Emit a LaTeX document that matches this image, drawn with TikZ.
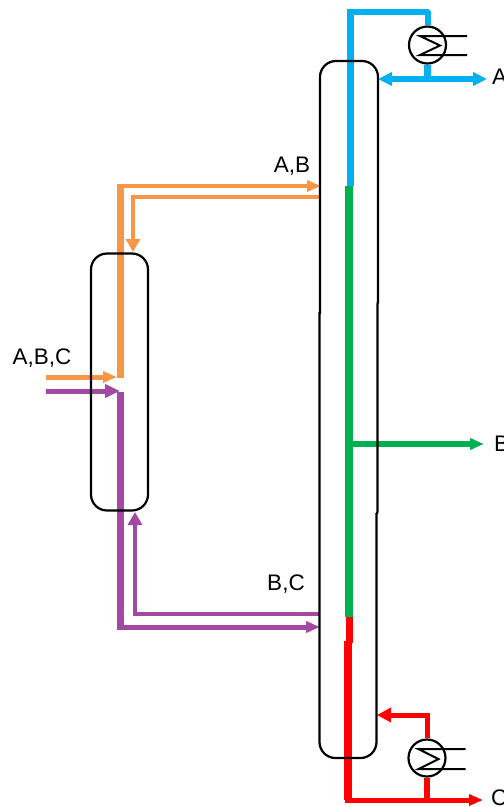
\documentclass[tikz,border=0pt]{standalone}
\usepackage{fontspec}
\setmainfont{Liberation Sans}
\usetikzlibrary{arrows.meta}
\definecolor{cblue}{RGB}{0,176,240}
\definecolor{cgreen}{RGB}{0,176,80}
\definecolor{cred}{RGB}{255,0,0}
\definecolor{corange}{RGB}{247,150,70}
\definecolor{cpurple}{RGB}{163,73,164}
\tikzset{
  vessel/.style={draw=black,line width=2.2pt,rounded corners=16pt},
  exch/.style={circle,draw=black,line width=2.2pt,minimum size=37pt,inner sep=0pt},
  tube/.style={draw=black,line width=2pt,line join=miter},
  thick line/.style={line width=7pt},
  mid line/.style={line width=5pt},
  thin line/.style={line width=4.5pt},
  small head/.style={-{Triangle[length=14pt,width=11pt]}},
  lbl/.style={font=\fontsize{22.5}{26}\selectfont,inner sep=0pt,text=black}
}
\begin{document}
\begin{tikzpicture}[x=1pt,y=-1pt]
\useasboundingbox (0,0) rectangle (504,807);
% named points
\coordinate (blueTop) at (350,12);
\coordinate (blueCorner) at (427.5,12);
\coordinate (blueEnd) at (350,186);
\coordinate (greenTop) at (349,186);
\coordinate (greenEnd) at (349,617);
\coordinate (greenTee) at (349,444);
\coordinate (redTop) at (349.5,617);
\coordinate (redStep) at (349.5,643);
\coordinate (redStepB) at (348,641);
\coordinate (redBot) at (348,800);
\coordinate (topTee) at (427.5,79);
\coordinate (refluxTip) at (378,79);
\coordinate (distTip) at (487,79);
\coordinate (sideTip) at (484,444);
\coordinate (reboilTee) at (427,800);
\coordinate (reboilCorner) at (427,715);
\coordinate (reboilTip) at (377,715);
\coordinate (bottomTip) at (483,800);
\coordinate (orFeedStart) at (46,377);
\coordinate (orFeedTip) at (117,377);
\coordinate (puFeedStart) at (46,391);
\coordinate (puFeedTip) at (120,391);
\coordinate (orUpBot) at (120.5,378);
\coordinate (orUpTop) at (120.5,186);
\coordinate (orOutTip) at (321,186);
\coordinate (orBackStart) at (320,197);
\coordinate (orBackCorner) at (133,197);
\coordinate (orBackTip) at (133,252);
\coordinate (puDownTop) at (120.5,392);
\coordinate (puDownBot) at (120.5,627);
\coordinate (puOutTip) at (320,627);
\coordinate (puBackStart) at (319,614);
\coordinate (puBackCorner) at (135,614);
\coordinate (puBackTip) at (135,512);
% exchangers
\node[exch] (cond) at (427.5,45) {};
\node[exch] (reb) at (427,758) {};
% coloured streams
\draw[cblue,thick line] (blueEnd) -- ([yshift=-3pt]blueTop);
\draw[cblue,line width=6pt,line join=round] ([xshift=-3.5pt]blueTop) -- (blueCorner) -- (cond.north);
\draw[cblue,thick line] (cond.south) -- (topTee);
\draw[cblue,line width=5.5pt,{Triangle[length=14pt,width=13pt]}-{Triangle[length=14pt,width=13pt]}] (refluxTip) -- (distTip);
\draw[cgreen,line width=7.5pt] (greenTop) -- (greenEnd);
\draw[cgreen,line width=6pt,small head] (greenTee) -- (sideTip);
\draw[cred,line width=7.5pt] (redTop) -- (redStep);
\draw[cred,line width=7.5pt] (redStepB) -- (redBot);
\draw[cred,mid line,small head] ([xshift=-3pt]redBot) -- (bottomTip);
\draw[cred,line width=5.5pt] (reb.south) -- (reboilTee);
\draw[cred,line width=5pt,-{Triangle[length=14pt,width=14pt]}] (reb.north) -- (reboilCorner) -- (reboilTip);
\draw[corange,thick line] (orUpBot) -- (orUpTop);
\draw[corange,line width=4.5pt,small head] ([xshift=-3.5pt]orUpTop) -- (orOutTip);
\draw[corange,thin line,-{Triangle[length=13pt,width=14pt]}] (orBackStart) -- (orBackCorner) -- (orBackTip);
\draw[corange,mid line,small head] (orFeedStart) -- (orFeedTip);
\draw[cpurple,mid line,-{Triangle[length=15pt,width=13pt]}] (puFeedStart) -- (puFeedTip);
\draw[cpurple,thick line] (puDownTop) -- (puDownBot);
\draw[cpurple,line width=5pt,small head] ([xshift=-3.5pt]puDownBot) -- (puOutTip);
\draw[cpurple,thin line,-{Triangle[length=13pt,width=14pt]}] (puBackStart) -- (puBackCorner) -- (puBackTip);
% vessels
\node[vessel,minimum width=57pt,minimum height=257pt,inner sep=0pt] (side) at (119.5,382) {};
\draw[vessel] (320,314) -- (320,61) -- (378,61) -- (378,303);
\draw[vessel,rounded corners=0pt] (378,302) -- (377.5,304) -- (377.5,512) -- (376.5,514);
\draw[vessel] (376.5,513) -- (376.5,758) -- (319.5,758) -- (319.5,312);
% exchanger internals
\draw[tube] (cond.center) ++(39.5,-9) coordinate (ca) -- ++(-47,0) -- ++(20,9.5) -- ++(-20,9.5) -- ++(47,0);
\draw[tube] (reb.center) ++(38.5,-9) coordinate (ra) -- ++(-47,0) -- ++(20,10) -- ++(-20,10) -- ++(47,0);
% labels
\node[lbl] (lAB) at (292,166) {A,B};
\node[lbl] (lBC) at (286,584) {B,C};
\node[lbl] (lABC) at (42,358) {A,B,C};
\node[lbl,anchor=west] (lA) at (492,77) {A};
\node[lbl,anchor=west] (lB) at (494,444) {B};
\node[lbl,anchor=west] (lC) at (491,798) {C};
\end{tikzpicture}
\end{document}
